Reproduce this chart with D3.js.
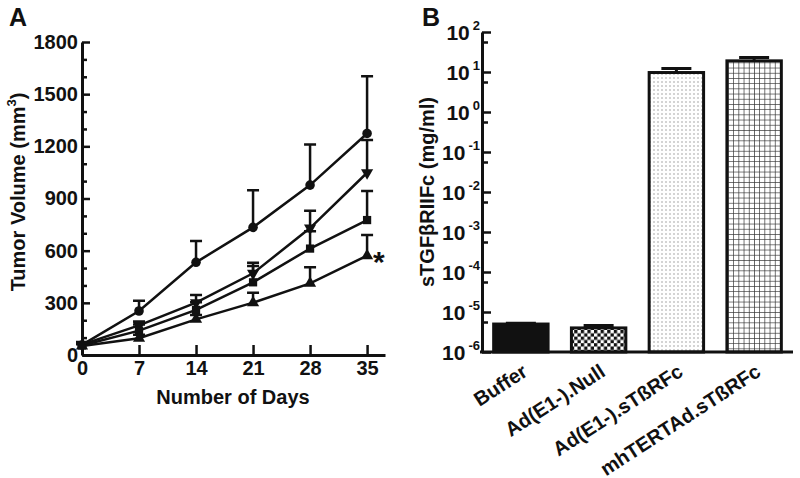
<!DOCTYPE html>
<html>
<head>
<meta charset="utf-8">
<script src="https://cdn.jsdelivr.net/npm/d3@7"></script>
<style>
  body { margin: 0; background: #fff; }
  text { font-family: 'Liberation Sans', Arial, sans-serif; font-weight: bold; fill: #111; }
  .axis path, .axis line { stroke: #111; }
</style>
</head>
<body>
<svg id="container" width="800" height="478"></svg>
<script>
// panel A: tumor volume over time
const days = [0, 7, 14, 21, 28, 35]
const circleMean = [58, 253, 533, 734, 977, 1274]
const circleErr = [15, 59, 122, 214, 234, 329]
const invTriMean = [60, 170, 301, 470, 730, 1048]
const invTriErr = [15, 22, 44, 61, 100, 188]
const squareMean = [55, 140, 259, 418, 612, 776]
const squareErr = [12, 35, 45, 94, 100, 167]
const triMean = [52, 96, 205, 301, 412, 571]
const triErr = [10, 20, 25, 57, 92, 119]
const volTicks = [0, 300, 600, 900, 1200, 1500, 1800]

// panel B: sTGFbRIIFc levels
const groups = ['Buffer', 'Ad(E1-).Null', 'Ad(E1-).sTßRFc', 'mhTERTAd.sTßRFc']
const levels = [5.0e-6, 4.0e-6, 9.7, 19]
const levelErr = [0.2e-6, 0.6e-6, 2.6, 4]
const fills = ['#111', 'url(#checker)', 'url(#dots)', 'url(#grid)']
const logTicks = [-6, -5, -4, -3, -2, -1, 0, 1, 2]

const svg = d3.select('#container')

// patterns for the bars
const defs = svg.append('defs')
const checker = defs.append('pattern').attr('id', 'checker')
  .attr('patternUnits', 'userSpaceOnUse').attr('width', 6.6).attr('height', 6.6)
checker.append('rect').attr('width', 6.6).attr('height', 6.6).attr('fill', '#fff')
checker.append('rect').attr('width', 3.3).attr('height', 3.3).attr('fill', '#111')
checker.append('rect').attr('x', 3.3).attr('y', 3.3).attr('width', 3.3).attr('height', 3.3).attr('fill', '#111')

const dots = defs.append('pattern').attr('id', 'dots')
  .attr('patternUnits', 'userSpaceOnUse').attr('width', 4).attr('height', 4)
dots.append('rect').attr('width', 4).attr('height', 4).attr('fill', '#fff')
dots.append('rect').attr('x', 1.5).attr('y', 1.5).attr('width', 1).attr('height', 1).attr('fill', '#555')

const grid = defs.append('pattern').attr('id', 'grid')
  .attr('patternUnits', 'userSpaceOnUse').attr('width', 5.2).attr('height', 5.2)
grid.append('rect').attr('width', 5.2).attr('height', 5.2).attr('fill', '#fff')
grid.append('path').attr('d', 'M0,0H5.2M0,0V5.2').attr('stroke', '#333').attr('stroke-width', 1.4)

// ---------- panel A ----------
const x = d3.scaleLinear().domain([0, 37.2]).range([82, 385])
const y = d3.scaleLinear().domain([0, 1800]).range([355, 42])

svg.append('text').attr('x', 9).attr('y', 26).style('font-size', '25px').text('A')

const gyA = svg.append('g').attr('class', 'axis')
  .attr('transform', 'translate(82,0)')
  .call(d3.axisLeft(y).tickValues(d3.range(0, 1801, 100).filter(v => v % 300))
    .tickFormat('').tickSize(-5).tickSizeOuter(0))
gyA.select('.domain').remove()
gyA.selectAll('line').attr('stroke-width', 2.5)

const gyA2 = svg.append('g').attr('class', 'axis')
  .attr('transform', 'translate(82,0)')
  .call(d3.axisLeft(y).tickValues(volTicks).tickFormat(d3.format('d'))
    .tickSize(-8).tickSizeOuter(0).tickPadding(4))
gyA2.select('.domain').attr('stroke-width', 3)
gyA2.selectAll('line').attr('stroke-width', 2.5)
gyA2.selectAll('text').style('font-size', '20px').attr('fill', '#111')

const gxA = svg.append('g').attr('class', 'axis')
  .attr('transform', 'translate(0,355)')
  .call(d3.axisBottom(x).tickValues(days).tickSize(-10).tickSizeOuter(0).tickPadding(6))
gxA.select('.domain').attr('stroke-width', 3)
gxA.selectAll('line').attr('stroke-width', 2.5)
gxA.selectAll('text').style('font-size', '20px').attr('fill', '#111').attr('dy', '0.72em')

svg.append('text').attr('x', 233).attr('y', 404).attr('text-anchor', 'middle')
  .style('font-size', '20px').text('Number of Days')

const yLabA = svg.append('text').attr('text-anchor', 'middle')
  .attr('transform', 'translate(25,192) rotate(-90)').style('font-size', '20px')
yLabA.append('tspan').text('Tumor Volume (mm')
yLabA.append('tspan').attr('dy', -9).style('font-size', '13px').text('3')
yLabA.append('tspan').attr('dy', 9).text(')')

const series = [
  { mean: circleMean, err: circleErr, sym: d3.symbolCircle, size: 72, rot: 0 },
  { mean: invTriMean, err: invTriErr, sym: d3.symbolTriangle, size: 64, rot: 180 },
  { mean: squareMean, err: squareErr, sym: d3.symbolSquare, size: 68, rot: 0 },
  { mean: triMean, err: triErr, sym: d3.symbolTriangle, size: 64, rot: 0 }
]

const line = d3.line().x((d, i) => x(days[i])).y(d => y(d))

series.forEach(s => {
  const g = svg.append('g')
  // upper error bars
  g.selectAll('.eb').data(s.mean).join('path')
    .attr('d', (d, i) => {
      const cx = x(days[i])
      const top = y(d + s.err[i])
      return `M${cx},${y(d)}V${top}M${cx - 6},${top}H${cx + 6}`
    })
    .attr('stroke', '#111').attr('stroke-width', 2.5).attr('fill', 'none')
  g.append('path').datum(s.mean).attr('d', line)
    .attr('fill', 'none').attr('stroke', '#111').attr('stroke-width', 2.5)
  g.selectAll('.mk').data(s.mean).join('path')
    .attr('d', d3.symbol().type(s.sym).size(s.size))
    .attr('transform', (d, i) => `translate(${x(days[i])},${y(d)}) rotate(${s.rot})`)
    .attr('fill', '#111')
})

svg.append('text').attr('x', 373).attr('y', 272).style('font-size', '30px').text('*')

// ---------- panel B ----------
const xb = d3.scaleBand().domain(groups).range([482, 793]).paddingInner(0.3).paddingOuter(0.15)
const yb = d3.scaleLog().domain([1e-6, 1e2]).range([352, 32])

svg.append('text').attr('x', 422).attr('y', 26).style('font-size', '25px').text('B')

const gyMinor = svg.append('g').attr('class', 'axis')
  .attr('transform', 'translate(482,0)')
  .call(d3.axisLeft(yb).tickValues(logTicks.slice(1).map(e => Math.pow(10, e - 0.25)))
    .tickFormat('').tickSize(-6).tickSizeOuter(0))
gyMinor.select('.domain').remove()
gyMinor.selectAll('line').attr('stroke-width', 2.5)

const gyB = svg.append('g').attr('class', 'axis')
  .attr('transform', 'translate(482,0)')
  .call(d3.axisLeft(yb).tickValues(logTicks.map(e => Math.pow(10, e)))
    .tickFormat('').tickSize(-9).tickSizeOuter(0))
gyB.select('.domain').attr('stroke-width', 3)
gyB.selectAll('line').attr('stroke-width', 2.5)

logTicks.forEach(e => {
  const t = svg.append('text').attr('text-anchor', 'end')
    .attr('x', 480).attr('y', yb(Math.pow(10, e)) + 8).style('font-size', '21px')
  t.append('tspan').text('10')
  t.append('tspan').attr('dx', 3).attr('dy', -10).style('font-size', '13px').text(e)
})

svg.append('text').attr('text-anchor', 'middle')
  .attr('transform', 'translate(434,192) rotate(-90)').style('font-size', '20px')
  .text('sTGFβRIIFc (mg/ml)')

svg.selectAll('.bar').data(groups).join('rect')
  .attr('x', d => xb(d))
  .attr('y', (d, i) => yb(levels[i]))
  .attr('width', xb.bandwidth())
  .attr('height', (d, i) => yb(1e-6) - yb(levels[i]))
  .attr('fill', (d, i) => fills[i])
  .attr('stroke', '#111').attr('stroke-width', 3)

svg.selectAll('.berr').data(groups).join('path')
  .attr('d', (d, i) => {
    const cx = xb(d) + xb.bandwidth() / 2
    const top = yb(levels[i] + levelErr[i])
    return `M${cx},${yb(levels[i])}V${top}M${cx - 15},${top}H${cx + 15}`
  })
  .attr('stroke', '#111').attr('stroke-width', 3).attr('fill', 'none')

svg.append('line').attr('x1', 480).attr('x2', 793).attr('y1', 352).attr('y2', 352)
  .attr('stroke', '#111').attr('stroke-width', 3)

svg.selectAll('.xl').data(groups).join('text')
  .attr('text-anchor', 'end')
  .attr('transform', d => `translate(${xb(d) + xb.bandwidth() / 2 + 8},375) rotate(-33)`)
  .style('font-size', '20px')
  .text(d => d)
</script>
</body>
</html>
